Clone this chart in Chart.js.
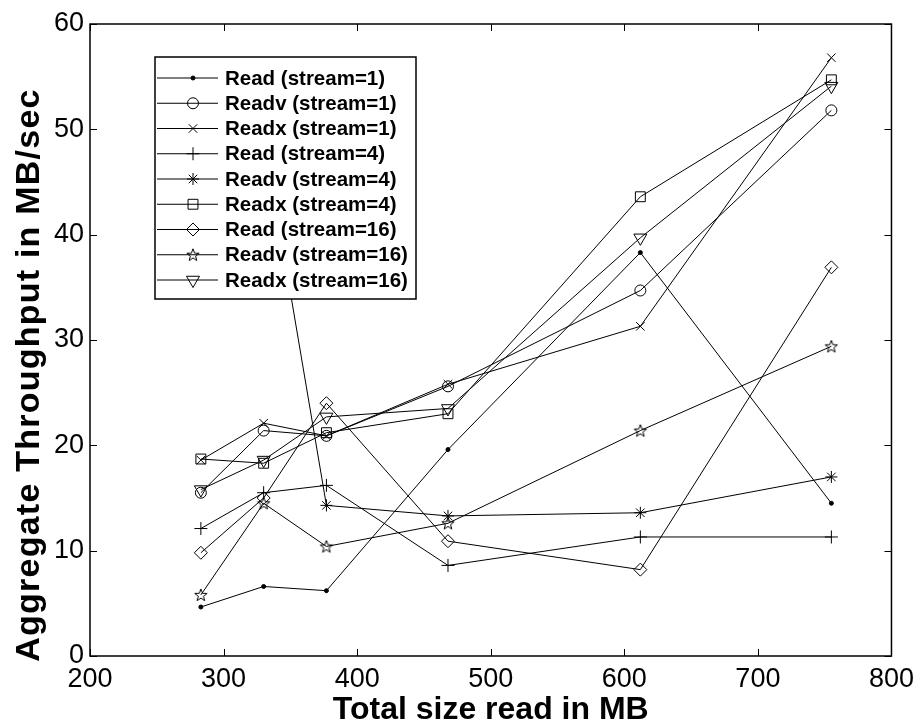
<!DOCTYPE html>
<html><head><meta charset="utf-8">
<script src="https://cdn.jsdelivr.net/npm/chart.js@4.4.0/dist/chart.umd.min.js"></script>
<style>html,body{margin:0;padding:0;background:#fff;}</style>
</head><body>
<canvas id="c" width="921" height="725"></canvas>
<script>
// ---- data ----
const sizesMB  = [283, 330, 377, 468, 612, 755];
const readS1   = [4.65, 6.6, 6.2, 19.6, 38.3, 14.5];
const readvS1  = [15.5, 21.4, 20.9, 25.6, 34.7, 51.8];
const readxS1  = [18.6, 22.1, 20.9, 25.8, 31.3, 56.8];
const readS4   = [12.1, 15.5, 16.2, 8.6, 11.3, 11.3];
const readvS4  = [44.0, 49.5, 14.3, 13.3, 13.6, 17.0];
const readxS4  = [18.7, 18.3, 21.2, 23.0, 43.6, 54.7];
const readS16  = [9.8, 15.0, 24.0, 10.9, 8.2, 36.9];
const readvS16 = [5.8, 14.5, 10.4, 12.6, 21.4, 29.4];
const readxS16 = [15.8, 18.6, 22.7, 23.5, 39.7, 54.1];
const seriesLabels = ['Read (stream=1)','Readv (stream=1)','Readx (stream=1)','Read (stream=4)','Readv (stream=4)','Readx (stream=4)','Read (stream=16)','Readv (stream=16)','Readx (stream=16)'];
const xTickValues = [200, 300, 400, 500, 600, 700, 800];
const yTickValues = [0, 10, 20, 30, 40, 50, 60];
const xTitle = 'Total size read in MB';
const yTitle = 'Aggregate Throughput in MB/sec';

const FONT = '"Liberation Sans", Arial, sans-serif';

// pentagram marker
function makePentagram(){
  const c = document.createElement('canvas'); c.width = 16; c.height = 16;
  const g = c.getContext('2d');
  g.strokeStyle = '#000'; g.lineWidth = 1;
  g.beginPath();
  for (let i = 0; i < 10; i++) {
    const r = i % 2 === 0 ? 6.5 : 2.7;
    const a = -Math.PI/2 + i*Math.PI/5;
    const x = 8 + r*Math.cos(a), y = 8.5 + r*Math.sin(a);
    if (i === 0) g.moveTo(x, y); else g.lineTo(x, y);
  }
  g.closePath(); g.stroke();
  return c;
}
const pentagram = makePentagram();

const seriesValues = [readS1, readvS1, readxS1, readS4, readvS4, readxS4, readS16, readvS16, readxS16];
const markerStyles = [
  {pointStyle:'circle', radius:2, rotation:0, fill:'#000'},
  {pointStyle:'circle', radius:5.5, rotation:0, fill:'rgba(0,0,0,0)'},
  {pointStyle:'crossRot', radius:6, rotation:0, fill:'rgba(0,0,0,0)'},
  {pointStyle:'cross', radius:6.5, rotation:0, fill:'rgba(0,0,0,0)'},
  {pointStyle:'star', radius:6, rotation:0, fill:'rgba(0,0,0,0)'},
  {pointStyle:'rect', radius:7, rotation:0, fill:'rgba(0,0,0,0)'},
  {pointStyle:'rectRot', radius:6.5, rotation:0, fill:'rgba(0,0,0,0)'},
  {pointStyle:pentagram, radius:7, rotation:0, fill:'rgba(0,0,0,0)'},
  {pointStyle:'triangle', radius:7.5, rotation:180, fill:'rgba(0,0,0,0)'}
];

const datasets = seriesValues.map((vals, i) => ({
  label: seriesLabels[i],
  data: vals.map((v, j) => ({x: sizesMB[j], y: v})),
  borderColor: '#000',
  borderWidth: 1,
  pointStyle: markerStyles[i].pointStyle,
  pointRadius: markerStyles[i].radius,
  pointRotation: markerStyles[i].rotation,
  pointBorderColor: '#000',
  pointBackgroundColor: markerStyles[i].fill,
  pointBorderWidth: 1,
  tension: 0,
  fill: false
}));

const boxPlugin = {
  id: 'boxTicks',
  afterDraw(chart) {
    const {ctx, chartArea: a, scales} = chart;
    ctx.save();
    ctx.strokeStyle = '#000'; ctx.lineWidth = 1.5;
    ctx.strokeRect(a.left, a.top, a.right - a.left, a.bottom - a.top);
    ctx.lineWidth = 1;
    const L = 7;
    ctx.beginPath();
    xTickValues.forEach(v => {
      const px = Math.round(scales.x.getPixelForValue(v)) + 0.5;
      ctx.moveTo(px, a.bottom); ctx.lineTo(px, a.bottom - L);
      ctx.moveTo(px, a.top); ctx.lineTo(px, a.top + L);
    });
    yTickValues.forEach(v => {
      const py = Math.round(scales.y.getPixelForValue(v)) + 0.5;
      ctx.moveTo(a.left, py); ctx.lineTo(a.left + L, py);
      ctx.moveTo(a.right, py); ctx.lineTo(a.right - L, py);
    });
    ctx.stroke();

    // y axis title (positioned like the reference: slightly below the axis centre)
    ctx.translate(30, a.top + 351);
    ctx.rotate(-Math.PI / 2);
    ctx.font = 'bold 34px ' + FONT;
    ctx.fillStyle = '#000';
    ctx.textAlign = 'center';
    ctx.textBaseline = 'middle';
    const target = 572;
    const w = ctx.measureText(yTitle).width;
    if ('letterSpacing' in ctx && w < target) {
      ctx.letterSpacing = ((target - w) / (yTitle.length - 1)).toFixed(2) + 'px';
    }
    ctx.fillText(yTitle, 0, 0);
    ctx.restore();
  }
};

const legendPlugin = {
  id: 'boxLegend',
  afterDatasetsDraw(chart) {
    const {ctx, chartArea: a} = chart;
    const bx = a.left + 65, by = a.top + 33, bw = 261, bh = 242;
    ctx.save();
    ctx.fillStyle = '#fff';
    ctx.fillRect(bx, by, bw, bh);
    ctx.strokeStyle = '#000'; ctx.lineWidth = 1.5;
    ctx.strokeRect(bx, by, bw, bh);
    ctx.font = 'bold 20.5px ' + FONT;
    ctx.textBaseline = 'middle';
    ctx.textAlign = 'left';
    chart.data.datasets.forEach((ds, i) => {
      const y = by + 21 + i * 25.25;
      ctx.strokeStyle = '#000'; ctx.lineWidth = 1;
      ctx.beginPath(); ctx.moveTo(bx + 2, y); ctx.lineTo(bx + 63, y); ctx.stroke();
      ctx.fillStyle = ds.pointBackgroundColor;
      ctx.strokeStyle = '#000';
      Chart.helpers.drawPoint(ctx, {pointStyle: ds.pointStyle, rotation: ds.pointRotation, radius: ds.pointRadius, borderWidth: 1}, bx + 38, y);
      ctx.fillStyle = '#000';
      ctx.fillText(ds.label, bx + 70, y + 1);
    });
    ctx.restore();
  }
};

new Chart(document.getElementById('c'), {
  type: 'line',
  data: {datasets},
  options: {
    responsive: false,
    animation: false,
    devicePixelRatio: 1,
    layout: {padding: {left: 0, right: 29, top: 24, bottom: 0}},
    plugins: {legend: {display: false}, tooltip: {enabled: false}},
    scales: {
      x: {
        type: 'linear', min: 200, max: 800,
        afterBuildTicks: s => { s.ticks = xTickValues.map(v => ({value: v})); },
        afterFit: s => { s.height = 69; },
        grid: {display: false, drawTicks: false},
        border: {display: false},
        ticks: {color: '#000', padding: 7, maxRotation: 0, font: {family: FONT, size: 27}},
        title: {display: true, text: xTitle, color: '#000', padding: {top: 0, bottom: -4},
                font: {family: FONT, size: 32, weight: 'bold'}}
      },
      y: {
        type: 'linear', min: 0, max: 60,
        afterBuildTicks: s => { s.ticks = yTickValues.map(v => ({value: v})); },
        afterFit: s => { s.width = 90; },
        grid: {display: false, drawTicks: false},
        border: {display: false},
        ticks: {color: '#000', padding: 6, font: {family: FONT, size: 27}},
        title: {display: false, text: yTitle}
      }
    }
  },
  plugins: [boxPlugin, legendPlugin]
});
</script>
</body></html>
